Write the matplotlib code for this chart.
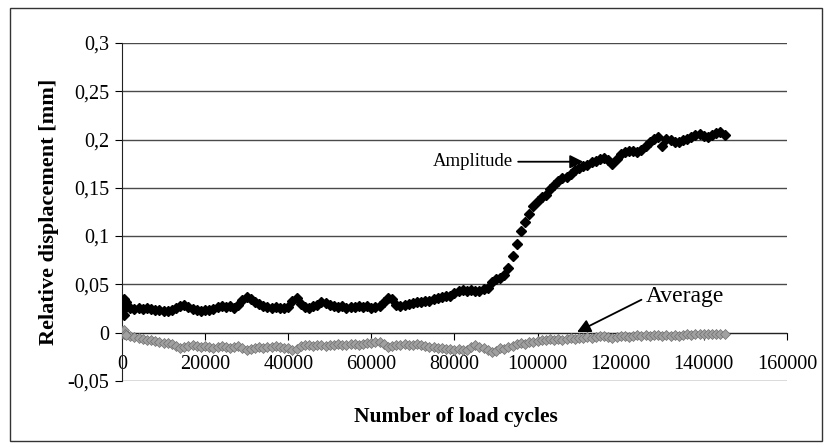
import matplotlib.pyplot as plt
from matplotlib.patches import Rectangle
import numpy as np

plt.rcParams['font.family'] = ['Liberation Serif', 'DejaVu Serif']

# load cycles, one reading every 1000 cycles
cycles = np.arange(0, 146000, 1000)

amplitude = [
    0.026, 0.027, 0.025, 0.024, 0.025, 0.024, 0.025, 0.024, 0.023, 0.023,
    0.022, 0.022, 0.023, 0.025, 0.028, 0.029, 0.026, 0.024, 0.023, 0.022,
    0.023, 0.023, 0.024, 0.026, 0.027, 0.026, 0.027, 0.025, 0.029, 0.034,
    0.037, 0.035, 0.032, 0.030, 0.028, 0.026, 0.025, 0.026, 0.025, 0.025,
    0.026, 0.033, 0.036, 0.030, 0.026, 0.025, 0.027, 0.029, 0.032, 0.031,
    0.029, 0.027, 0.026, 0.027, 0.025, 0.026, 0.026, 0.027, 0.026, 0.027,
    0.025, 0.026, 0.028, 0.032, 0.036, 0.035, 0.029, 0.027, 0.029, 0.030,
    0.031, 0.032, 0.032, 0.033, 0.033, 0.035, 0.036, 0.037, 0.038, 0.038,
    0.041, 0.043, 0.044, 0.043, 0.044, 0.043, 0.043, 0.045, 0.046, 0.052,
    0.055, 0.056, 0.060, 0.067, 0.079, 0.092, 0.105, 0.115, 0.123, 0.131,
    0.136, 0.140, 0.143, 0.149, 0.153, 0.157, 0.160, 0.161, 0.164, 0.168,
    0.171, 0.173, 0.174, 0.177, 0.178, 0.180, 0.181, 0.179, 0.175, 0.180,
    0.185, 0.187, 0.188, 0.188, 0.187, 0.189, 0.193, 0.197, 0.201, 0.203,
    0.193, 0.201, 0.200, 0.197, 0.197, 0.199, 0.201, 0.203, 0.205, 0.206,
    0.204, 0.203, 0.205, 0.207, 0.208, 0.205,
]

average = [
    0.000, -0.002, -0.004, -0.005, -0.006, -0.007, -0.008, -0.008, -0.009, -0.010,
    -0.011, -0.011, -0.012, -0.014, -0.016, -0.015, -0.014, -0.013, -0.014, -0.015,
    -0.014, -0.015, -0.016, -0.015, -0.014, -0.015, -0.016, -0.015, -0.014, -0.016,
    -0.018, -0.017, -0.016, -0.015, -0.016, -0.015, -0.015, -0.014, -0.015, -0.016,
    -0.016, -0.018, -0.017, -0.014, -0.013, -0.013, -0.014, -0.013, -0.013, -0.014,
    -0.013, -0.013, -0.012, -0.013, -0.013, -0.012, -0.012, -0.013, -0.012, -0.011,
    -0.011, -0.010, -0.010, -0.012, -0.015, -0.014, -0.013, -0.013, -0.012, -0.013,
    -0.013, -0.012, -0.013, -0.014, -0.015, -0.015, -0.016, -0.016, -0.017, -0.017,
    -0.018, -0.017, -0.018, -0.018, -0.015, -0.013, -0.015, -0.016, -0.018, -0.020,
    -0.019, -0.016, -0.017, -0.015, -0.014, -0.012, -0.011, -0.012, -0.010, -0.010,
    -0.009, -0.008, -0.008, -0.007, -0.008, -0.007, -0.008, -0.007, -0.006, -0.007,
    -0.006, -0.006, -0.005, -0.006, -0.005, -0.004, -0.004, -0.005, -0.006, -0.005,
    -0.004, -0.004, -0.005, -0.004, -0.003, -0.004, -0.003, -0.004, -0.003, -0.003,
    -0.004, -0.003, -0.004, -0.003, -0.004, -0.003, -0.002, -0.003, -0.002, -0.001,
    -0.002, -0.001, -0.002, -0.001, -0.001, -0.002,
]

# extra readings bunched at the very start
start_cycles = [0, 200, 400, 600, 800, 1000]
start_amp = [0.022, 0.030, 0.035, 0.018, 0.028, 0.032]
start_avg = [0.002, 0.000, -0.002, 0.003, -0.001, -0.003]

yticks = [-0.05, 0, 0.05, 0.1, 0.15, 0.2, 0.25, 0.3]
ylabels = ['-0,05', '0', '0,05', '0,1', '0,15', '0,2', '0,25', '0,3']
xticks = [0, 20000, 40000, 60000, 80000, 100000, 120000, 140000, 160000]

fig = plt.figure(figsize=(8.24, 4.48), dpi=100)
ax = fig.add_axes([0.148, 0.150, 0.807, 0.754])

for y in yticks:
    ax.axhline(y, color='#4a4a4a', lw=1.0, zorder=1)

ax.plot(cycles, average, 'D', ms=5.5, color='#a0a0a0', mec='#707070', mew=0.5, zorder=3)
ax.plot(start_cycles, start_avg, 'D', ms=5.5, color='#a0a0a0', mec='#707070', mew=0.5, zorder=3)
ax.plot(cycles, amplitude, 'D', ms=5.5, color='black', zorder=4)
ax.plot(start_cycles, start_amp, 'D', ms=5.5, color='black', zorder=4)

ax.set_xlim(0, 160000)
ax.set_ylim(-0.05, 0.3)
ax.spines['top'].set_visible(False)
ax.spines['right'].set_visible(False)
ax.spines['bottom'].set_position(('data', 0))
ax.spines['bottom'].set_color('#222222')
ax.spines['left'].set_color('#222222')

ax.set_yticks(yticks)
ax.set_yticklabels(ylabels)
ax.set_xticks(xticks)
ax.set_xticklabels([str(v) for v in xticks])
ax.tick_params(axis='y', direction='out', length=5, labelsize=14.5, pad=4)
ax.tick_params(axis='x', direction='out', length=5, labelsize=14.5, pad=11)

ax.set_ylabel('Relative displacement [mm]', fontsize=16, fontweight='bold', labelpad=6)
fig.text(0.553, 0.069, 'Number of load cycles', fontsize=15.5, fontweight='bold',
         ha='center', va='center')

ax.annotate('Amplitude', xy=(111000, 0.177), xytext=(94000, 0.177),
            fontsize=13.5, ha='right', va='center',
            arrowprops=dict(arrowstyle='-|>', color='black', lw=1.3,
                            mutation_scale=20, shrinkA=2, shrinkB=0))
ax.annotate('', xy=(109500, 0.0005), xytext=(125000, 0.034),
            arrowprops=dict(arrowstyle='-|>', color='black', lw=1.3,
                            mutation_scale=20, shrinkA=0, shrinkB=0))
ax.text(126000, 0.037, 'Average', fontsize=17, ha='left', va='center')

fig.patches.append(Rectangle((10 / 824, 7 / 448), 812 / 824, 433 / 448,
                             transform=fig.transFigure, fill=False,
                             edgecolor='#333333', lw=1.0))

fig.savefig('out.png', dpi=100)
